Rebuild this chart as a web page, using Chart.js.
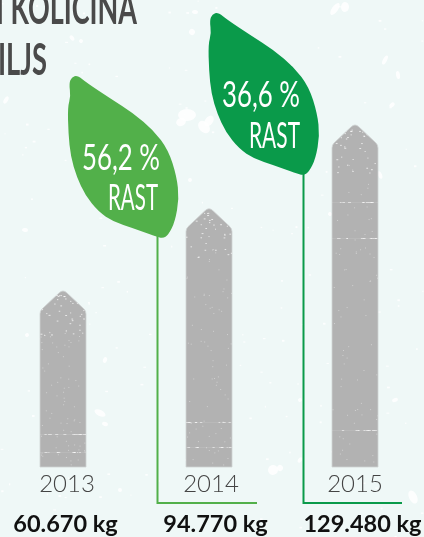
<!DOCTYPE html>
<html><head><meta charset="utf-8">
<style>html,body{margin:0;padding:0;background:#eff8f7;overflow:hidden}canvas{display:block}</style>
<script src="https://cdn.jsdelivr.net/npm/chart.js@4"></script>
</head><body>
<canvas id="c" width="424" height="537"></canvas>
<script>
// ---- data ----
const years = ['2013', '2014', '2015'];
const kilograms = [60670, 94770, 129480];
const kgLabels = ['60.670 kg', '94.770 kg', '129.480 kg'];
const growthLabels = ['56,2 %', '36,6 %'];
const growthWord = 'RAST';
const titleLines = ['I KOLIČINA', 'ILJS'];

// ---- style / layout ----
const BG = '#eff8f7', BAR = '#b2b2b2', BAR_EDGE = '#cfd3d3', INK = '#4a4a4a';
const LEAF_COLORS = ['#52b04a', '#0a9a4a'];
const yearShift = [4, 2, 0], kgShift = [2.5, 6.5, 7.5];
const leafOrigins = [[67.7, 75.3], [208.3, 12.3]];
const leafStems = [{bar: 1, top: 236, end: 257}, {bar: 2, top: 173, end: 402}];
const leafText = [[[82, 170, 78], [108, 210, 50]], [[222, 107, 78], [249, 148, 51]]];
const leafShape = [[232,226],[262,250],[330,295],[400,340],[460,390],[505,450],[530,530],[537,595],[525,665],[505,705],[488,716],[465,708],[400,685],[340,665],[295,635],[255,585],[230,530],[212,470],[205,400],[203,320],[212,290],[207,250],[215,232]];
const blotches = [[187,115,9,6],[181,122,5,4],[204,127,7,5],[209,121,4,6],[335,9,7,3],[345,7,5,4],[72,38,3,2],[81,41,2,2],[192,32,3,3],[195,12,2,3],[100,413,3,6],[105,424,2,3],[273,470,5,5],[280,468,3,3],[413,497,7,4],[300,460,3,2],[6,100,4,2],[25,230,3,2],[385,60,5,2],[398,75,4,2],[380,175,2,4],[392,105,3,2],[45,452,3,2],[120,490,2,2],[27,335,2,2],[330,214,2,2],[105,360,3,2],[190,180,2,2],[395,400,3,2],[300,400,2,2]];
const streaks = [[0,434],[0,452],[1,422],[1,447],[2,202],[2,238],[2,430]];

let seed = 7;
function noise() { seed = (seed * 16807) % 2147483647; return seed / 2147483647; }

function arrowBar(ctx) {
  const p = this.getProps(['x', 'y', 'base', 'width'], true);
  const l = p.x - p.width / 2, r = p.x + p.width / 2, sh = 21;
  ctx.save();
  ctx.beginPath();
  ctx.moveTo(l, p.base);
  ctx.lineTo(l, p.y + sh + 2);
  ctx.quadraticCurveTo(l, p.y + sh - 1, l + 2, p.y + sh - 3);
  ctx.lineTo(p.x - 4, p.y + 2);
  ctx.quadraticCurveTo(p.x, p.y - 2, p.x + 4, p.y + 2);
  ctx.lineTo(r - 2, p.y + sh - 3);
  ctx.quadraticCurveTo(r, p.y + sh - 1, r, p.y + sh + 2);
  ctx.lineTo(r, p.base);
  ctx.closePath();
  ctx.fillStyle = BAR; ctx.fill();
  ctx.strokeStyle = BAR_EDGE; ctx.lineWidth = 0.8; ctx.stroke();
  ctx.clip();
  ctx.fillStyle = 'rgba(255,255,255,0.7)';
  for (let i = 0; i < 45; i++) {
    const d = noise();
    ctx.fillRect(l + noise() * p.width, p.y + 4 + d * d * 45, 1 + noise(), 1);
  }
  ctx.fillStyle = 'rgba(255,255,255,0.4)';
  for (let i = 0; i < 70; i++) ctx.fillRect(l + noise() * p.width, p.y + 40 + noise() * (p.base - p.y - 40), 1, 1);
  const idx = years.indexOf(this.$yr);
  streaks.filter(s => s[0] === idx).forEach(s => {
    ctx.fillStyle = 'rgba(255,255,255,0.1)';
    ctx.fillRect(l, s[1], p.width, 1);
    ctx.fillStyle = 'rgba(255,255,255,0.55)';
    for (let i = 0; i < 9; i++) ctx.fillRect(l + noise() * p.width, s[1], 1 + noise() * 3, 1);
  });
  ctx.restore();
}

const decor = {
  id: 'decor',
  afterLayout(chart) {
    const shift = (scale, arr) => {
      const base = scale.getPixelForValue(0), step = scale.getPixelForValue(1) - base;
      scale.getPixelForTick = i => base + step * i + arr[i];
    };
    shift(chart.scales.x, yearShift);
    shift(chart.scales.x2, kgShift);
    chart.getDatasetMeta(0).data.forEach((el, i) => { el.$yr = years[i]; el.draw = arrowBar; });
  },
  beforeDraw(chart) {
    const ctx = chart.ctx;
    seed = 7;
    ctx.save();
    ctx.fillStyle = BG; ctx.fillRect(0, 0, 424, 537);
    ctx.fillStyle = 'rgba(255,255,255,0.85)';
    blotches.forEach(b => { ctx.beginPath(); ctx.ellipse(b[0], b[1], b[2], b[3], noise() * 3, 0, 7); ctx.fill(); });
    for (let i = 0; i < 170; i++) ctx.fillRect(noise() * 424, noise() * 537, 1 + noise() * 2, 1 + noise());
    ctx.fillStyle = INK;
    ctx.font = '700 44px "Liberation Sans Narrow","Lato"';
    ctx.fillText(titleLines[0], -4, 24, 141);
    ctx.fillText(titleLines[1], -2, 75, 49);
    ctx.restore();
  },
  afterDatasetsDraw(chart) {
    const ctx = chart.ctx, bars = chart.getDatasetMeta(0).data;
    ctx.save();
    leafStems.forEach((s, i) => {
      const sx = Math.round(bars[s.bar].x - 52) + .5;
      ctx.strokeStyle = LEAF_COLORS[i]; ctx.lineWidth = 2;
      ctx.beginPath(); ctx.moveTo(sx, s.top); ctx.lineTo(sx, 503); ctx.lineTo(s.end, 503); ctx.stroke();
      const o = leafOrigins[i];
      const pts = leafShape.map(p => [o[0] + (p[0] - 203) / 3, o[1] + (p[1] - 226) / 3]);
      ctx.fillStyle = LEAF_COLORS[i];
      ctx.beginPath();
      pts.forEach((p, k) => {
        const n = pts[(k + 1) % pts.length], mx = (p[0] + n[0]) / 2, my = (p[1] + n[1]) / 2;
        if (k === 0) ctx.moveTo(mx, my); else ctx.quadraticCurveTo(p[0], p[1], mx, my);
      });
      ctx.quadraticCurveTo(pts[0][0], pts[0][1], (pts[0][0] + pts[1][0]) / 2, (pts[0][1] + pts[1][1]) / 2);
      ctx.fill();
      ctx.fillStyle = '#fff';
      const t = leafText[i];
      ctx.font = '400 37px Lato';
      ctx.fillText(growthLabels[i], t[0][0], t[0][1], t[0][2]);
      ctx.font = '400 36px Lato';
      ctx.fillText(growthWord, t[1][0], t[1][1], t[1][2]);
    });
    ctx.restore();
  }
};

new Chart(document.getElementById('c'), {
  type: 'bar',
  data: {
    labels: years,
    datasets: [{ data: kilograms, base: -12300, backgroundColor: BAR, barThickness: 46, clip: false, xAxisID: 'x', yAxisID: 'y' }]
  },
  plugins: [decor],
  options: {
    responsive: false, animation: false, events: [],
    layout: { padding: { left: 63, right: 69, top: 0, bottom: 0 } },
    plugins: { legend: { display: false }, tooltip: { enabled: false }, title: { display: false } },
    scales: {
      y: { display: false, min: -12300, max: 181300 },
      x: {
        type: 'category', offset: false, position: 'bottom',
        border: { display: false }, grid: { display: false, drawTicks: false },
        ticks: { autoSkip: false, maxRotation: 0, minRotation: 0, padding: 3, color: '#444', font: { family: 'Lato', weight: '300', size: 24 } },
        afterFit(s) { s.height = 38; s.paddingLeft = 0; s.paddingRight = 0; }
      },
      x2: {
        type: 'category', labels: kgLabels, offset: false, position: 'bottom',
        border: { display: false }, grid: { display: false, drawTicks: false },
        ticks: { autoSkip: false, maxRotation: 0, minRotation: 0, padding: 5, color: '#111', font: { family: 'Lato', weight: '700', size: 23.5 } },
        afterFit(s) { s.height = 32; s.paddingLeft = 0; s.paddingRight = 0; }
      }
    }
  }
});
</script>
</body></html>
